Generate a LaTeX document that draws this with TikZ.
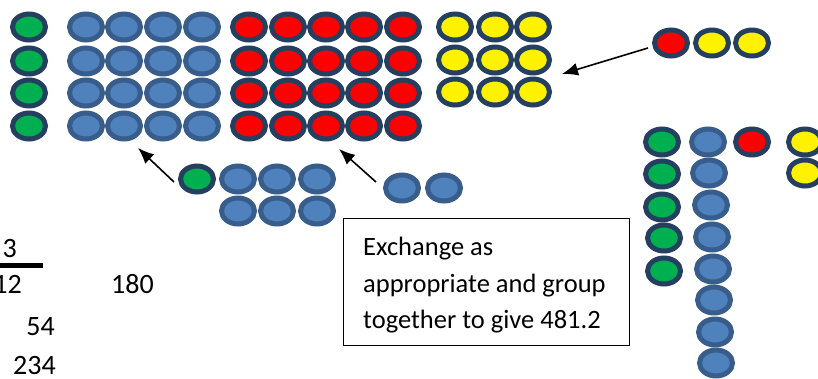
\documentclass[tikz,border=0pt]{standalone}
\usepackage{fontspec}
\setmainfont{Carlito}
\usetikzlibrary{shapes.geometric,arrows.meta}
\definecolor{navy}{HTML}{243F60}
\definecolor{bluefill}{HTML}{4F81BD}
\definecolor{blueedge}{HTML}{385D8A}
\definecolor{grn}{HTML}{00B050}
\begin{document}
\begin{tikzpicture}[x=1pt,y=-1pt,
 counter/.style={ellipse, minimum width=33pt, minimum height=26pt, inner sep=0pt, line width=5pt},
 gc/.style={counter, draw=navy, fill=grn},
 bc/.style={counter, draw=blueedge, fill=bluefill},
 rc/.style={counter, draw=navy, fill=red},
 yc/.style={counter, draw=navy, fill=yellow},
 arr/.style={-{Latex[length=16pt,width=13pt]}, line width=1.6pt},
 lbl/.style={font=\fontsize{26.5}{37}\selectfont, inner sep=0pt},
 num/.style={font=\fontsize{28}{34}\selectfont, inner sep=0pt},
 ]
\useasboundingbox (0,0) rectangle (818,378);
\clip (0,0) rectangle (818,378);
% top-left green column
\foreach \y [count=\j] in {27,61,93,126} \node[gc] (g\j) at (29,\y) {};
% blue grid
\foreach \x [count=\i] in {86,124,163,202}
  \foreach \y [count=\j] in {27,61,93,126} \node[bc] (b\i\j) at (\x,\y) {};
% red grid
\foreach \x [count=\i] in {249,288,326,364,403}
  \foreach \y [count=\j] in {27,61,93,126} \node[rc] (r\i\j) at (\x,\y) {};
% yellow grid
\foreach \x [count=\i] in {455,495,533}
  \foreach \y [count=\j] in {27,60,92} \node[yc] (y\i\j) at (\x,\y) {};
% red + two yellow row
\node[rc] (xr) at (671,43) {};
\node[yc] (xy1) at (712,43) {};
\node[yc] (xy2) at (752,43) {};
\coordinate (a1s) at (648,48);
\coordinate (a1e) at (562,74);
\draw[arr] (a1s) -- (a1e);
% green + six blue
\node[gc] (sg) at (197,179) {};
\foreach \x [count=\i] in {238,277,317}
  \foreach \y [count=\j] in {179,211} \node[bc] (sb\i\j) at (\x,\y) {};
\coordinate (a2s) at (174,182);
\coordinate (a2e) at (138,148);
\draw[arr] (a2s) -- (a2e);
% two blue
\node[bc] (tb1) at (402,188) {};
\node[bc] (tb2) at (444,188) {};
\coordinate (a3s) at (376,182);
\coordinate (a3e) at (339,149);
\draw[arr] (a3s) -- (a3e);
% right columns
\foreach \x/\y [count=\j] in {662/142,662/174,662/207,664/238,664/271} \node[gc] (rg\j) at (\x,\y) {};
\foreach \x/\y [count=\j] in {708/142,709/173,711/205,712/237,713/269,714/300,715/332,716/363} \node[bc] (rb\j) at (\x,\y) {};
\node[rc] (rr) at (752,142) {};
\node[yc] (ry1) at (805,142) {};
\node[yc] (ry2) at (805,173) {};
% text box
\node[draw, line width=1.3pt, minimum width=286pt, minimum height=127pt, anchor=north west, inner sep=0pt] (box) at (343,218) {};
\node[lbl, anchor=base west] (t1) at (363,255) {Exchange as};
\node[lbl, anchor=base west] (t2) at (363,292) {appropriate and group};
\node[lbl, anchor=base west] (t3) at (363,328) {together to give 481.2};
% left numbers
\node[num, anchor=base east] (n3) at (17,257) {3};
\draw[line width=5pt] (0,265.5) coordinate (bl) -- (43,265.5) coordinate (br);
\node[num, anchor=base east] (n12) at (22,293) {12};
\node[num, anchor=base east] (n180) at (154,293) {180};
\node[num, anchor=base east] (n54) at (55,335) {54};
\node[num, anchor=base east] (n234) at (56,374) {234};
\end{tikzpicture}
\end{document}
